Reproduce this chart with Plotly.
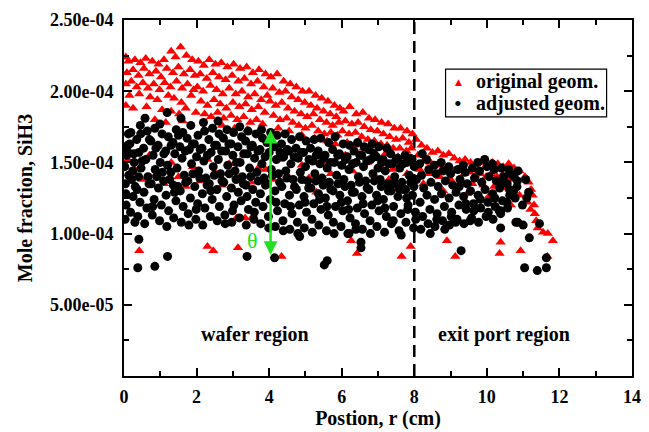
import plotly.graph_objects as go

# ---------------- data (mole fraction in units of 1e-4) ----------------
orig_r = [
    0.05,0.12,0.30,0.45,0.60,0.78,0.95,1.10,1.30,1.42,1.56,1.72,1.88,
    0.08,0.25,0.40,0.55,0.70,0.88,1.02,1.18,1.35,1.50,1.65,1.82,1.95,
    0.05,0.20,0.35,0.52,0.66,0.82,0.98,1.12,1.28,1.45,1.60,1.75,1.92,
    0.15,0.42,0.72,0.92,1.22,1.38,1.58,1.85,
    0.05,0.25,0.62,1.05,1.30,1.52,1.70,1.98,
    0.85,1.15,1.62,
    2.05,2.20,2.35,2.52,2.68,2.85,3.02,3.20,3.38,3.55,3.72,3.90,
    2.10,2.28,2.45,2.62,2.80,2.98,3.15,3.32,3.50,3.68,3.85,
    2.02,2.18,2.38,2.55,2.72,2.90,3.08,3.25,3.42,3.60,3.78,3.95,
    2.12,2.30,2.48,2.65,2.82,3.00,3.18,3.35,3.52,3.70,3.88,
    2.22,2.40,2.58,2.75,2.95,3.12,3.30,3.48,3.65,3.82,
    2.70,3.05,3.40,3.75,
    4.05,4.22,4.40,4.58,4.75,4.92,5.10,5.28,5.45,5.62,5.80,5.95,
    4.10,4.28,4.45,4.62,4.80,4.98,5.15,5.32,5.50,5.68,5.85,
    4.02,4.18,4.35,4.52,4.70,4.88,5.05,5.22,5.40,5.58,5.75,5.92,
    4.12,4.30,4.48,4.65,4.82,5.00,5.18,5.35,5.52,5.70,5.88,
    4.25,4.55,4.90,5.25,5.60,5.82,
    6.05,6.22,6.40,6.58,6.75,6.92,7.10,7.28,7.45,7.62,7.80,7.95,
    6.10,6.28,6.45,6.62,6.80,6.98,7.15,7.32,7.50,7.68,7.85,
    6.02,6.20,6.38,6.55,6.72,6.90,7.08,7.25,7.42,7.60,7.78,7.92,
    6.15,6.35,6.60,6.85,7.20,7.55,7.88,
    8.05,8.20,8.35,8.50,8.65,8.80,8.95,9.10,9.25,9.40,9.55,9.70,9.85,10.00,10.15,10.30,10.45,10.60,10.75,10.90,
    8.10,8.28,8.45,8.62,8.78,8.92,9.08,9.22,9.38,9.52,9.68,9.82,9.98,10.12,10.28,10.42,10.58,10.72,
    8.15,8.40,8.70,9.00,9.30,9.60,9.90,10.20,10.50,
    8.25,8.80,9.45,10.05,
    11.05,11.15,11.22,11.26,10.90,11.30,11.32,11.36,11.40,11.55,11.68,11.82,10.66,11.12,11.20,
    0.10,0.30,0.50,0.70,0.90,1.10,1.30,1.50,1.70,1.90,2.10,2.30,2.50,2.70,2.90,3.10,3.30,3.50,3.70,3.90,
    4.10,4.30,4.50,4.70,4.90,5.10,5.30,5.50,5.70,5.90,6.10,6.30,6.50,6.70,6.90,7.10,7.30,7.40,7.60,7.80,
    0.42,2.30,2.46,3.14,3.10,3.34,3.55,4.34,6.26,6.42,7.65,7.90,8.90,9.13,10.38,10.35,10.93,11.67,
]
orig_y = [
    2.24,2.21,2.22,2.20,2.23,2.21,2.19,2.22,2.28,2.24,2.31,2.25,2.22,
    2.13,2.15,2.11,2.16,2.12,2.14,2.10,2.16,2.13,2.17,2.12,2.15,2.11,
    2.05,2.07,2.03,2.06,2.02,2.05,2.01,2.06,2.03,2.07,2.02,2.05,2.01,
    1.97,1.98,1.96,1.94,1.97,1.95,1.92,1.97,
    1.90,1.88,1.89,1.87,1.86,1.84,1.88,1.85,
    1.80,1.78,1.79,
    2.21,2.18,2.22,2.19,2.20,2.17,2.19,2.16,2.17,2.13,2.15,2.12,
    2.12,2.09,2.13,2.10,2.08,2.11,2.07,2.09,2.05,2.07,2.03,
    2.03,2.00,2.04,2.01,1.98,2.02,1.98,2.00,1.96,1.98,1.94,1.97,
    1.93,1.90,1.94,1.91,1.88,1.92,1.89,1.91,1.87,1.89,1.85,
    1.84,1.82,1.85,1.81,1.83,1.80,1.82,1.78,1.80,1.77,
    1.76,1.74,1.73,1.72,
    2.10,2.12,2.07,2.05,2.03,2.00,2.00,1.97,1.95,1.93,1.90,1.88,
    2.02,1.99,2.00,1.96,1.94,1.92,1.90,1.88,1.86,1.84,1.82,
    1.93,1.90,1.92,1.88,1.86,1.84,1.82,1.84,1.80,1.78,1.76,1.78,
    1.83,1.80,1.81,1.78,1.76,1.74,1.76,1.72,1.70,1.71,1.69,
    1.74,1.72,1.69,1.67,1.65,1.63,
    1.86,1.89,1.84,1.85,1.81,1.80,1.78,1.77,1.74,1.74,1.72,1.70,
    1.79,1.77,1.78,1.75,1.73,1.72,1.70,1.68,1.66,1.67,1.64,
    1.72,1.70,1.71,1.68,1.66,1.65,1.63,1.62,1.60,1.60,1.58,1.60,
    1.64,1.62,1.60,1.58,1.56,1.54,1.52,
    1.66,1.62,1.60,1.57,1.58,1.55,1.56,1.53,1.51,1.52,1.50,1.49,1.50,1.48,1.50,1.49,1.47,1.49,1.46,1.44,
    1.55,1.52,1.50,1.48,1.46,1.47,1.44,1.45,1.42,1.43,1.41,1.42,1.40,1.42,1.40,1.41,1.39,1.38,
    1.45,1.42,1.40,1.38,1.36,1.35,1.34,1.33,1.32,
    1.35,1.30,1.28,1.26,
    1.40,1.36,1.31,1.27,1.27,1.20,1.14,1.09,1.04,1.01,1.00,0.95,1.20,1.22,1.17,
    1.52,1.45,1.38,1.55,1.42,1.35,1.50,1.40,1.33,1.47,1.37,1.52,1.43,1.34,1.49,1.40,1.55,1.36,1.46,1.45,
    1.38,1.52,1.41,1.33,1.48,1.39,1.29,1.50,1.42,1.35,1.55,1.44,1.37,1.50,1.41,1.46,1.38,1.45,1.50,1.42,
    0.88,0.91,0.88,0.90,1.11,1.11,1.12,0.84,0.95,0.86,0.84,0.91,0.95,0.84,0.94,0.86,0.88,0.84,
]

adj_r = [
    0.03,0.06,0.02,0.08,0.04,0.10,0.05,0.12,
    0.18,0.25,0.21,0.28,0.16,0.24,0.30,0.19,
    0.38,0.44,0.36,0.47,0.41,0.35,0.45,0.40,
    0.57,0.63,0.55,0.66,0.60,0.54,0.64,0.58,
    0.78,0.83,0.75,0.86,0.80,0.74,0.85,0.79,
    0.98,1.03,0.95,1.06,1.00,0.94,1.05,0.99,
    1.18,1.23,1.16,1.26,1.20,1.15,1.22,1.19,
    1.37,1.43,1.36,1.46,1.40,1.35,1.44,1.39,
    1.58,1.63,1.55,1.66,1.60,1.54,1.62,1.57,
    1.77,1.83,1.76,1.86,1.80,1.74,1.84,1.79,
    1.98,2.03,1.95,2.06,2.00,1.94,2.04,1.99,
    2.17,2.23,2.16,2.26,2.20,2.15,2.22,2.19,
    2.38,2.43,2.35,2.46,2.40,2.34,2.44,2.39,
    2.57,2.63,2.56,2.66,2.60,2.55,2.62,2.59,
    2.78,2.83,2.75,2.86,2.80,2.74,2.84,2.79,
    2.97,3.03,2.96,3.06,3.00,2.95,3.02,2.99,
    3.18,3.23,3.15,3.26,3.20,3.14,3.24,3.19,
    3.37,3.43,3.36,3.46,3.40,3.35,3.42,3.39,
    3.58,3.63,3.55,3.66,3.60,3.54,3.64,3.59,
    3.77,3.83,3.76,3.86,3.80,3.75,3.82,3.79,
    3.98,4.03,3.95,4.06,4.00,3.94,4.04,3.99,
    4.17,4.23,4.16,4.26,4.20,4.15,4.22,4.19,
    4.38,4.43,4.35,4.46,4.40,4.34,4.44,4.39,
    4.57,4.63,4.56,4.66,4.60,4.55,4.62,4.59,
    4.78,4.83,4.75,4.86,4.80,4.74,4.84,4.79,
    4.97,5.03,4.96,5.06,5.00,4.95,5.02,4.99,
    5.18,5.23,5.15,5.26,5.20,5.14,5.24,5.19,
    5.37,5.43,5.36,5.46,5.40,5.35,5.42,5.39,
    5.58,5.63,5.55,5.66,5.60,5.54,5.64,5.59,
    5.77,5.83,5.76,5.86,5.80,5.75,5.82,5.79,
    5.98,6.03,5.95,6.06,6.00,5.94,6.04,5.99,
    6.17,6.23,6.16,6.26,6.20,6.15,6.22,6.19,
    6.38,6.43,6.35,6.46,6.40,6.34,6.44,6.39,
    6.57,6.63,6.56,6.66,6.60,6.55,6.62,6.59,
    6.78,6.83,6.75,6.86,6.80,6.74,6.84,6.79,
    6.97,7.03,6.96,7.06,7.00,6.95,7.02,6.99,
    7.18,7.23,7.15,7.26,7.20,7.14,7.24,7.19,
    7.37,7.43,7.36,7.46,7.40,7.35,7.42,7.39,
    7.58,7.63,7.55,7.66,7.60,7.54,7.64,7.59,
    7.77,7.83,7.76,7.86,7.80,7.75,7.82,7.79,
    7.98,8.03,7.95,8.06,8.00,7.94,8.04,7.99,
    8.18,8.23,8.16,8.26,8.20,8.15,8.22,
    8.38,8.43,8.35,8.46,8.40,8.34,8.44,
    8.57,8.63,8.56,8.66,8.60,8.55,8.62,
    8.78,8.83,8.75,8.86,8.80,8.74,8.84,
    8.97,9.03,8.96,9.06,9.00,8.95,9.02,
    9.18,9.23,9.15,9.26,9.20,9.14,9.24,
    9.37,9.43,9.36,9.46,9.40,9.35,9.42,
    9.58,9.63,9.55,9.66,9.60,9.54,9.64,
    9.77,9.83,9.76,9.86,9.80,9.75,9.82,
    9.98,10.03,9.95,10.06,10.00,9.94,10.04,
    10.17,10.23,10.16,10.26,10.20,10.15,10.22,
    10.38,10.43,10.35,10.46,10.40,10.34,10.44,
    10.57,10.63,10.56,10.66,10.60,10.55,10.62,
    10.78,10.83,10.75,10.86,10.80,10.74,10.84,
    11.07,11.15,11.10,10.98,11.17,11.45,11.00,10.85,11.04,11.39,11.64,11.64,10.38,10.38,
    0.41,0.38,0.85,1.20,3.39,4.15,4.84,5.60,5.52,6.20,6.53,6.53,9.29,
    0.13,0.09,0.31,0.27,0.50,0.46,0.69,0.70,0.90,0.88,1.09,1.10,1.29,1.30,1.49,1.50,
    1.70,1.69,1.90,1.89,2.09,2.10,2.29,2.30,2.49,2.50,2.70,2.69,2.90,2.89,3.09,3.10,
    3.29,3.30,3.49,3.50,3.70,3.69,3.90,3.89,4.09,4.10,4.29,4.30,4.49,4.50,4.70,4.69,
    4.90,4.89,5.09,5.10,5.29,5.30,5.49,5.50,5.70,5.69,5.90,5.89,6.09,6.10,6.29,6.30,
    6.49,6.50,6.70,6.69,6.90,6.89,7.09,7.10,7.29,7.30,7.49,7.50,7.70,7.69,7.90,7.89,
]
adj_y = [
    1.10,1.20,1.47,1.55,1.35,1.62,1.28,1.70,
    1.15,1.26,1.38,1.50,1.63,1.44,1.08,1.71,
    1.12,1.22,1.31,1.46,1.57,1.66,1.76,1.40,
    1.07,1.18,1.29,1.40,1.52,1.60,1.72,1.81,
    1.13,1.24,1.35,1.45,1.55,1.65,1.74,1.19,
    1.09,1.20,1.32,1.43,1.50,1.62,1.70,1.77,
    1.05,1.16,1.27,1.38,1.48,1.58,1.68,1.85,
    1.11,1.23,1.34,1.46,1.56,1.64,1.73,1.29,
    1.08,1.19,1.30,1.41,1.53,1.61,1.71,1.81,
    1.14,1.25,1.37,1.49,1.59,1.67,1.76,1.06,
    1.10,1.21,1.33,1.44,1.54,1.63,1.69,1.17,
    1.06,1.18,1.28,1.39,1.51,1.60,1.72,1.78,
    1.12,1.24,1.35,1.47,1.57,1.66,1.74,1.30,
    1.09,1.19,1.31,1.42,1.52,1.62,1.70,1.79,
    1.13,1.26,1.36,1.48,1.58,1.67,1.73,1.07,
    1.08,1.20,1.32,1.44,1.55,1.63,1.71,1.16,
    1.11,1.23,1.29,1.40,1.50,1.61,1.68,1.75,
    1.06,1.17,1.34,1.46,1.56,1.65,1.72,1.26,
    1.10,1.22,1.31,1.43,1.53,1.62,1.70,1.15,
    1.07,1.19,1.28,1.39,1.49,1.59,1.67,1.73,
    1.12,1.24,1.35,1.45,1.57,1.64,1.71,1.04,
    1.05,1.16,1.30,1.42,1.52,1.61,1.69,1.22,
    1.09,1.21,1.33,1.44,1.54,1.63,1.70,1.02,
    1.03,1.14,1.27,1.38,1.49,1.58,1.66,1.19,
    1.08,1.20,1.31,1.43,1.53,1.60,1.68,1.00,
    1.04,1.15,1.26,1.37,1.47,1.57,1.65,1.22,
    1.10,1.21,1.32,1.42,1.51,1.60,1.66,1.01,
    1.06,1.17,1.28,1.39,1.49,1.58,1.67,1.24,
    1.02,1.13,1.25,1.36,1.46,1.55,1.64,1.19,
    1.08,1.19,1.30,1.41,1.50,1.59,1.68,1.00,
    1.05,1.16,1.27,1.38,1.48,1.56,1.63,1.22,
    1.00,1.11,1.23,1.34,1.45,1.54,1.62,1.17,
    1.07,1.18,1.29,1.40,1.50,1.58,1.64,1.03,
    1.03,1.14,1.26,1.37,1.47,1.55,1.61,1.21,
    1.09,1.20,1.31,1.42,1.52,1.59,1.63,1.00,
    1.05,1.16,1.27,1.38,1.46,1.54,1.61,1.23,
    1.01,1.12,1.24,1.35,1.44,1.52,1.60,1.18,
    1.07,1.19,1.30,1.40,1.49,1.56,1.09,1.35,
    1.02,1.14,1.26,1.36,1.46,1.53,0.99,1.31,
    1.08,1.20,1.31,1.41,1.50,1.55,1.17,1.25,
    1.04,1.15,1.27,1.38,1.47,1.52,1.10,1.33,
    1.03,1.12,1.22,1.32,1.41,1.49,1.56,
    1.07,1.17,1.27,1.36,1.45,1.52,1.00,
    1.05,1.14,1.24,1.33,1.42,1.48,1.10,
    1.09,1.19,1.28,1.37,1.44,1.50,1.03,
    1.06,1.15,1.25,1.34,1.42,1.47,1.12,
    1.10,1.20,1.29,1.38,1.45,1.08,1.33,
    1.07,1.17,1.26,1.35,1.43,1.48,1.21,
    1.11,1.21,1.30,1.39,1.46,1.09,1.16,
    1.08,1.18,1.27,1.36,1.44,1.50,1.24,
    1.12,1.22,1.31,1.40,1.47,1.52,1.15,
    1.10,1.19,1.28,1.37,1.45,1.49,1.25,
    1.14,1.23,1.32,1.40,1.46,1.16,1.36,
    1.18,1.27,1.35,1.42,1.45,1.22,1.31,
    1.25,1.33,1.40,1.44,1.08,1.30,1.37,
    1.38,1.29,1.25,1.20,0.97,1.07,1.06,1.08,0.76,0.74,0.76,0.83,1.04,1.16,
    0.96,0.76,0.77,0.84,0.84,0.83,0.98,0.81,0.78,1.00,0.94,0.90,0.88,
    1.41,1.58,1.33,1.56,1.51,1.70,1.35,1.66,1.40,1.60,1.37,1.56,1.43,1.62,1.33,1.69,
    1.36,1.58,1.42,1.63,1.39,1.59,1.34,1.55,1.41,1.62,1.37,1.58,1.42,1.63,1.38,1.50,
    1.35,1.56,1.40,1.61,1.37,1.58,1.34,1.54,1.41,1.62,1.36,1.57,1.39,1.59,1.33,1.54,
    1.38,1.57,1.32,1.52,1.37,1.55,1.34,1.53,1.31,1.50,1.35,1.55,1.33,1.52,1.29,1.49,
    1.36,1.55,1.32,1.51,1.37,1.56,1.33,1.50,1.30,1.49,1.35,1.52,1.31,1.49,1.36,1.53,
]
assert len(orig_r) == len(orig_y), (len(orig_r), len(orig_y))
assert len(adj_r) == len(adj_y), (len(adj_r), len(adj_y))

y_scale = 1e-4
orig_vals = [v * y_scale for v in orig_y]
adj_vals = [v * y_scale for v in adj_y]

x_ticks = [0, 2, 4, 6, 8, 10, 12, 14]
y_tick_vals = [5e-5, 1e-4, 1.5e-4, 2e-4, 2.5e-4]
y_tick_text = ["5.00e-05", "1.00e-04", "1.50e-04", "2.00e-04", "2.50e-04"]
legend_names = ["original geom.", "adjusted geom."]
boundary_r = 8
theta_top, theta_bottom, theta_r = 1.73e-4, 0.84e-4, 4.04

FONT = "Liberation Serif, Times New Roman, serif"
GREEN = "#22e022"

fig = go.Figure()
fig.add_trace(go.Scatter(
    x=orig_r, y=orig_vals, mode="markers", name=legend_names[0], showlegend=False,
    marker=dict(symbol="triangle-up", size=9, color="#ff0000", line=dict(width=0)),
))
fig.add_trace(go.Scatter(
    x=adj_r, y=adj_vals, mode="markers", name=legend_names[1], showlegend=False,
    marker=dict(symbol="circle", size=9, color="#000000", line=dict(width=0)),
))

fig.add_shape(type="line", x0=boundary_r, x1=boundary_r, y0=0, y1=2.5e-4,
              xref="x", yref="y", line=dict(color="black", width=2.5, dash="12px,7px"))

fig.add_annotation(x=theta_r, y=theta_top, ax=theta_r, ay=theta_bottom,
                   xref="x", yref="y", axref="x", ayref="y", text="",
                   showarrow=True, arrowhead=2, arrowside="end+start",
                   arrowsize=1.1, arrowwidth=2.5, arrowcolor=GREEN)
fig.add_annotation(x=3.55, y=0.95e-4, text="θ", showarrow=False,
                   font=dict(family=FONT, size=22, color=GREEN))
fig.add_annotation(x=3.62, y=0.29e-4, text="wafer region", showarrow=False,
                   font=dict(family=FONT, size=20, color="black", weight="bold"))
fig.add_annotation(x=10.46, y=0.29e-4, text="exit port region", showarrow=False,
                   font=dict(family=FONT, size=20, color="black", weight="bold"))

# legend box drawn as shape + text (compact rows like the original)
fig.add_shape(type="rect", xref="paper", yref="paper", x0=0.633, x1=0.950, y0=0.728, y1=0.862,
              line=dict(color="black", width=1.2), fillcolor="white", layer="above")
legend_rows_y = [0.826, 0.766]
legend_syms = [("▲", "#ff0000", 9, "DejaVu Sans"), ("•", "#000000", 22, "Liberation Serif")]
for name, yy, (sym, col, sz, fam) in zip(legend_names, legend_rows_y, legend_syms):
    fig.add_annotation(xref="paper", yref="paper", x=0.658, y=yy, text=sym, showarrow=False,
                       xanchor="center", yanchor="middle",
                       font=dict(family=fam, size=sz, color=col))
    fig.add_annotation(xref="paper", yref="paper", x=0.688, y=yy, text=name, showarrow=False,
                       xanchor="left", yanchor="middle",
                       font=dict(family=FONT, size=20, color="black", weight="bold"))

axis_common = dict(
    showline=True, linecolor="black", linewidth=2, mirror="allticks",
    ticks="inside", ticklen=8, tickwidth=1.5, tickcolor="black",
    showgrid=False, zeroline=False,
    tickfont=dict(family=FONT, size=18, color="black", weight="bold"),
)

fig.update_layout(
    width=649, height=432,
    margin=dict(l=124, r=8, t=20, b=40),
    plot_bgcolor="white", paper_bgcolor="white",
    font=dict(family=FONT, color="black"),
    xaxis=dict(
        range=[0, 14], tickmode="array", tickvals=x_ticks,
        ticktext=[str(t) for t in x_ticks], ticklabelstandoff=3,
        minor=dict(tickmode="linear", tick0=0, dtick=1, ticks="inside", ticklen=5, tickcolor="black"),
        title=dict(text="Postion, r (cm)", standoff=3,
                   font=dict(family=FONT, size=20, color="black", weight="bold")),
        **axis_common,
    ),
    yaxis=dict(
        range=[0, 2.5e-4], tickmode="array", tickvals=y_tick_vals, ticktext=y_tick_text,
        ticklabelstandoff=5,
        minor=dict(tickmode="linear", tick0=0, dtick=2.5e-5, ticks="inside", ticklen=5, tickcolor="black"),
        title=dict(text="Mole fraction, SiH3", standoff=12,
                   font=dict(family=FONT, size=20, color="black", weight="bold")),
        **axis_common,
    ),
    showlegend=False,
)

fig.write_html("out.html", config={"displayModeBar": False},
               post_script="document.body.style.margin='0px';")
